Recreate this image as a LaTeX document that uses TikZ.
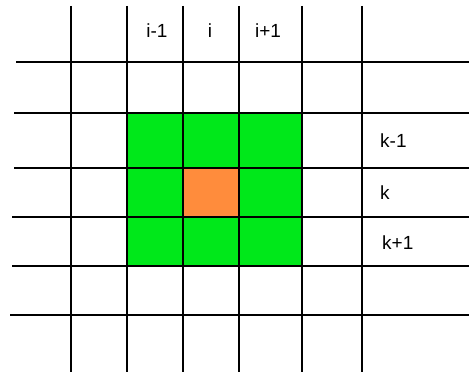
\documentclass[tikz,border=0pt]{standalone}
\usepackage{fontspec}
\setmainfont{Liberation Sans}
\definecolor{cellgreen}{RGB}{0,232,26}
\definecolor{cellorange}{RGB}{255,140,60}

\begin{document}
\begin{tikzpicture}[x=1pt,y=-1pt,
  gridline/.style={line width=1.5pt,black},
  lab/.style={font=\fontsize{19}{21}\selectfont,inner sep=0pt}
]
  \useasboundingbox (0,0) rectangle (469,374);

  % neighbour cells and centre cell
  \fill[cellgreen] (127,113) rectangle (302,266);
  \fill[cellorange] (183,168) rectangle (239,217);

  % grid lines
  \foreach \x in {71,127,183,239,302,362}
    \draw[gridline] (\x,6) -- (\x,372);
  \foreach \y/\xs in {62/16,113/14,168/14,217/12,266/12,315/10}
    \draw[gridline] (\xs,\y) -- (469,\y);

  % column labels
  \node[lab] (im1) at (157,31) {i-1};
  \node[lab] (i0)  at (210,31) {i};
  \node[lab] (ip1) at (268,31) {i+1};

  % row labels
  \node[lab,anchor=west] (km1) at (380,141) {k-1};
  \node[lab,anchor=west] (k0)  at (380,193) {k};
  \node[lab,anchor=west] (kp1) at (382,243) {k+1};
\end{tikzpicture}
\end{document}
